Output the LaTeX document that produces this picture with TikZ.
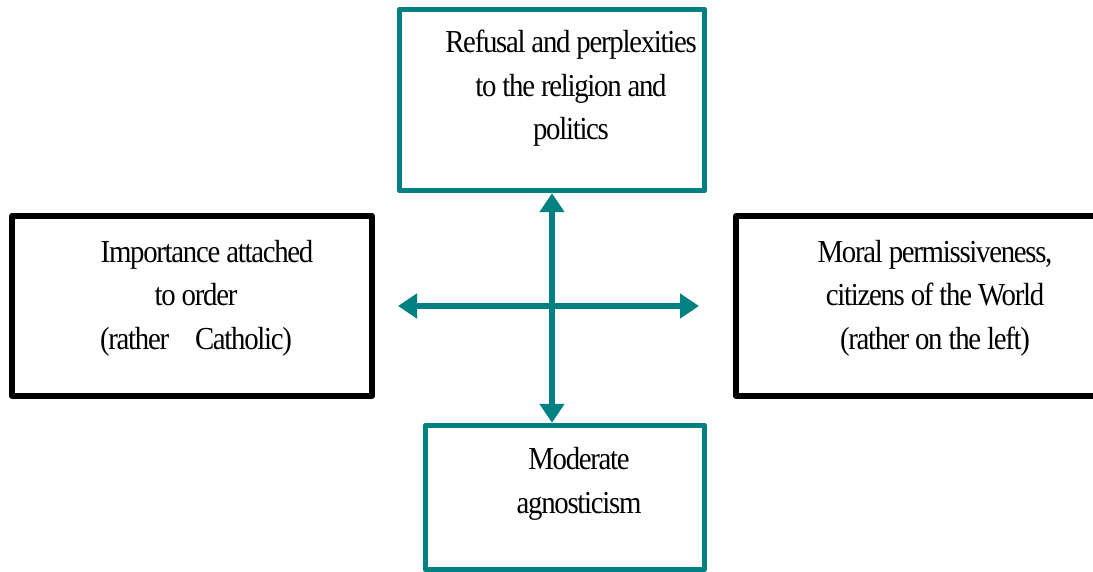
\documentclass[tikz,border=0pt]{standalone}
\usepackage{fontspec}
\setmainfont{Liberation Serif}[FakeStretch=0.9, LetterSpace=-4]
\usepackage{tikz}
\usepackage{xcolor}
\usetikzlibrary{arrows.meta, positioning}
\definecolor{darkteal}{rgb}{0.0, 0.5, 0.5}
\tikzstyle{tealbox} = [rectangle, draw=darkteal, fill=none, line width=5.5pt, line join=round, inner sep=0pt]
\tikzstyle{blackbox} = [rectangle, draw=black, fill=none, line width=6pt, line join=round, inner sep=0pt]
\tikzstyle{boxtext} = [align=center, anchor=base, inner sep=0pt, font=\fontsize{32}{43.5}\selectfont]
\tikzstyle{arrow} = [draw=darkteal, line width=6pt, {Triangle[length=19pt, width=24pt]}-{Triangle[length=19pt, width=24pt]}]

\begin{document}
\begin{tikzpicture}[x=1pt, y=-1pt]
        \useasboundingbox (0,0) rectangle (1093,572);
        \clip (0,0) rectangle (1093,572);

        \node (topbox) [tealbox, minimum width=305pt, minimum height=181pt] at (552,100) {};
        \node (leftbox) [blackbox, minimum width=360pt, minimum height=180pt] at (192,306) {};
        \node (rightbox) [blackbox, minimum width=362pt, minimum height=180pt] at (917,306) {};
        \node (bottombox) [tealbox, minimum width=279pt, minimum height=144pt] at (565,497.5) {};

        % base anchor sits on the last line
        \node (toptext) [boxtext] at (571,140) {Refusal and perplexities\\ to the religion and\\ politics\hspace{16pt}};
        \node (lefttext) [boxtext] at (196,349) {\hspace{22pt}Importance attached\\ to order\hspace{16pt}\\ (rather\hspace{20pt} Catholic)};
        \node (righttext) [boxtext] at (935,349) {Moral permissiveness,\\ citizens of the World\\ (rather on the left)};
        \node (bottomtext) [boxtext] at (579,513) {Moderate\\ agnosticism};

        \coordinate (hleft) at (398,306);
        \coordinate (hright) at (699,306);

        \draw [arrow] (topbox.south) -- (topbox.south |- bottombox.north);
        \draw [arrow] (hleft) -- (hright);

    \end{tikzpicture}
\end{document}
